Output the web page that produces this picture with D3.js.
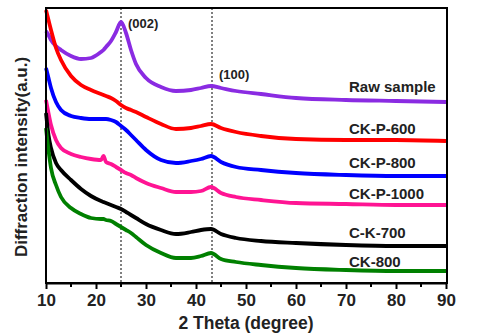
<!DOCTYPE html>
<html><head><meta charset="utf-8">
<script src="https://cdn.jsdelivr.net/npm/d3@7"></script>
<style>
html,body{margin:0;padding:0;background:#fff;}
svg{display:block;font-family:"Liberation Sans",Arial,sans-serif;font-weight:bold;}
</style></head>
<body><svg id="c" width="479" height="336"></svg>
<script>
const twoTheta = [10,10.5,11,12,13,15,17,19,21,21.5,22,23,24,25,26,27,28,30,33,36,39,41,43,45,48,53,60,70,80,90];
const rawSample = [252,248,243,237,233,227,224,225,231,233,236,242,251,261,250,233,219,205,196,192,193,195,197,195,192,189,185,183,182,181];
const ckP600    = [273,263,253,235,223,207,198,193,189,188,187,185,182,178,175,173,171,166,159,154,155,157,159,155,151,147,144,143,143,142];
const ckP800    = [215,205,195,181,173,167,165,164,164,164,164,163,161,157,153,148,143,133,123,120,122,124,127,121,116,113,110,108,107,107];
const ckP1000   = [183,170,158,143,135,129,126,124,123,127,121,119,116,113,110,108,105,100,95,91,91,92,96,90,86,83,80,79,78,78];
const ck700     = [170,148,135,120,113,103,94,87,82,81,80,78,76,74,71,68,65,59,53,49,51,53,54,49,45,42,40,38,37,37];
const ck800     = [155,133,115,98,86,75,69,65,64,64,63,62,59,56,53,50,46,38,30,25,25,27,30,24,21,18,15,13,12,12];
const seriesNames = ["Raw sample","CK-P-600","CK-P-800","CK-P-1000","C-K-700","CK-800"];
const seriesColors = ["#8a2be2","#ff0000","#0000ff","#ff1493","#000000","#008000"];
const labelIntensity = [191,149,115,84,45,16];
const peakPositions = [25,43.2];
const peakLabels = ["(002)","(100)"];
const xTicks = [10,20,30,40,50,60,70,80,90];

const svg = d3.select("#c");
const L=46,R=446,T=8,B=283;
const x = d3.scaleLinear().domain([10,90]).range([L,R]);
const y = d3.scaleLinear().domain([0,275]).range([B,T]);
const data=[rawSample,ckP600,ckP800,ckP1000,ck700,ck800];

svg.selectAll(".ref").data(peakPositions).enter().append("line")
  .attr("x1",d=>x(d)).attr("x2",d=>x(d)).attr("y1",T).attr("y2",B)
  .attr("stroke","#000").attr("stroke-width",1).attr("stroke-dasharray","2,2");

const line = d3.line().x((d,i)=>x(twoTheta[i])).y(d=>y(d)).curve(d3.curveMonotoneX);
svg.selectAll(".s").data(data).enter().append("path")
  .attr("d",d=>line(d)).attr("fill","none")
  .attr("stroke",(d,i)=>seriesColors[i]).attr("stroke-width",3.8)
  .attr("stroke-linejoin","round");

svg.append("rect").attr("x",L).attr("y",T).attr("width",R-L+1).attr("height",B-T)
  .attr("fill","none").attr("stroke","#000").attr("stroke-width",2);

const ax = d3.axisBottom(x).tickValues(xTicks).tickSize(6).tickSizeOuter(0).tickPadding(5);
const g = svg.append("g").attr("transform",`translate(0,${B})`).call(ax);
g.select(".domain").attr("stroke-width",2);
g.selectAll(".tick line").attr("stroke-width",2);
g.selectAll("text").attr("font-size",17).attr("font-weight","bold").attr("fill","#222")
  .attr("font-family","Liberation Sans, Arial, sans-serif");
const minor = d3.range(15,90,10);
svg.selectAll(".mt").data(minor).enter().append("line")
  .attr("x1",d=>x(d)).attr("x2",d=>x(d)).attr("y1",B).attr("y2",B+4)
  .attr("stroke","#000").attr("stroke-width",2);

svg.selectAll(".lab").data(seriesNames).enter().append("text")
  .attr("x",x(70.6)).attr("y",(d,i)=>y(labelIntensity[i]))
  .attr("font-size",15).attr("fill","#222").text(d=>d);

svg.selectAll(".pk").data(peakLabels).enter().append("text")
  .attr("x",(d,i)=>x(peakPositions[i])+7).attr("y",(d,i)=>i===0?28:79)
  .attr("font-size",13).attr("fill","#222").text(d=>d);

svg.append("text").attr("x",(L+R)/2).attr("y",329).attr("text-anchor","middle")
  .attr("font-size",17.5).attr("fill","#222").text("2 Theta (degree)");
svg.append("text").attr("transform","translate(27,157) rotate(-90)").attr("text-anchor","middle")
  .attr("font-size",17).attr("fill","#222").text("Diffraction intensity(a.u.)");
</script></body></html>
